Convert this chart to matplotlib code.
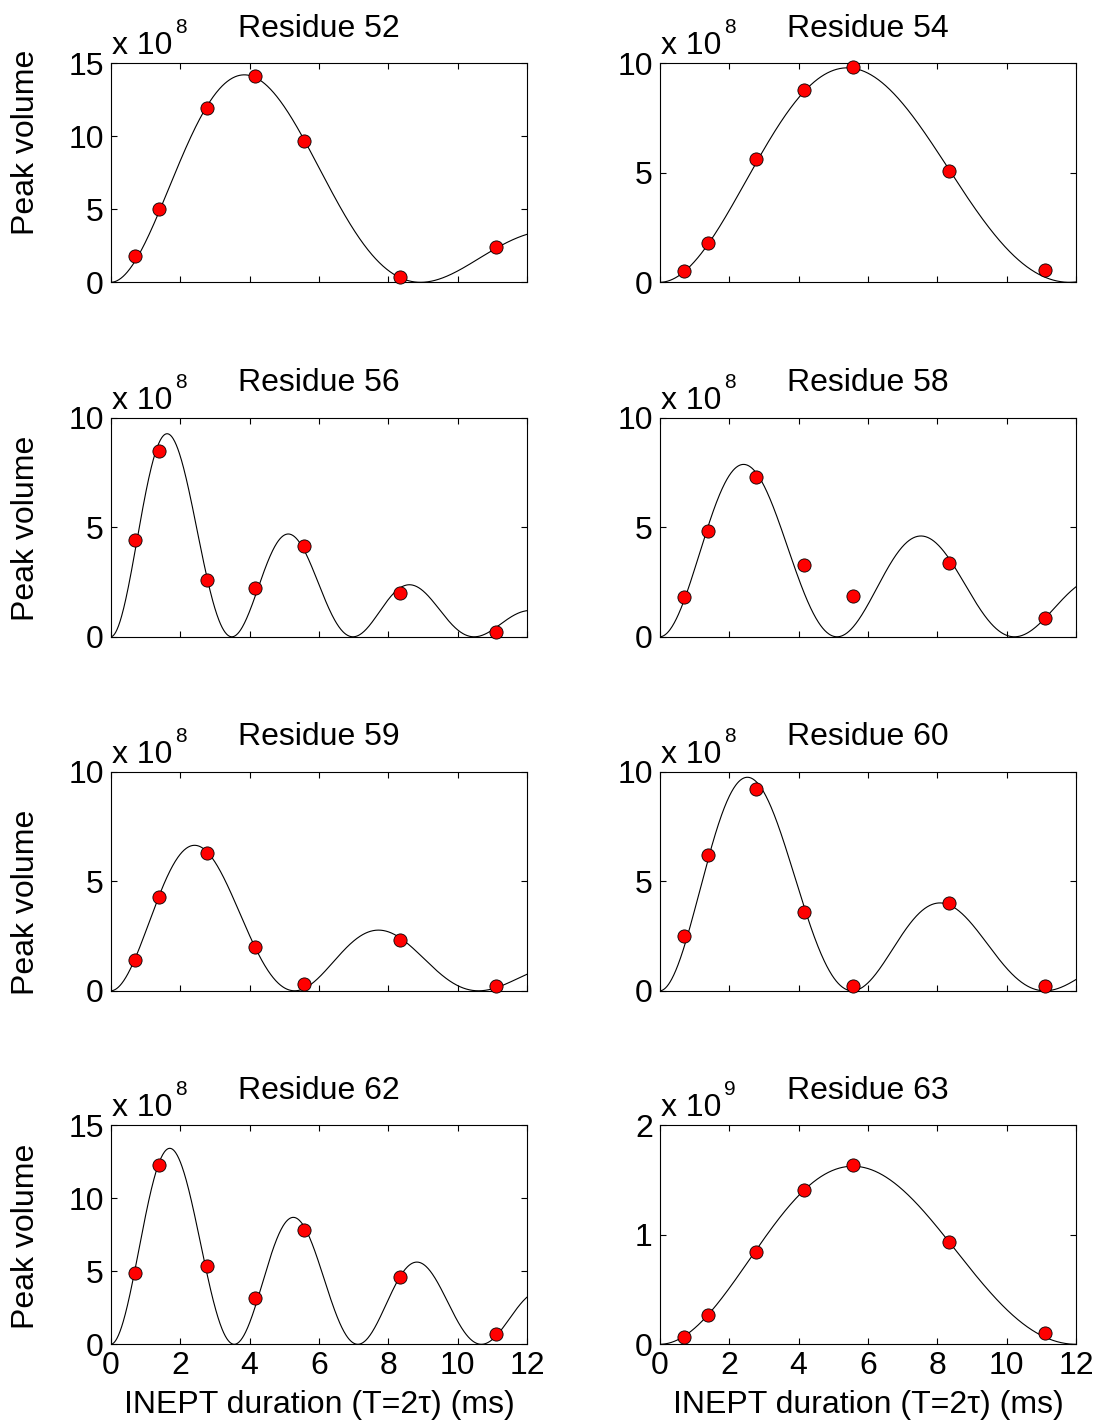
import numpy as np
import matplotlib
matplotlib.use("Agg")
import matplotlib.pyplot as plt
from matplotlib.transforms import offset_copy

plt.rcParams['font.family'] = ['Liberation Sans', 'DejaVu Sans']

# ---------------- data ----------------
residues = [52, 54, 56, 58, 59, 60, 62, 63]
T_ms = [0.69, 1.39, 2.78, 4.17, 5.56, 8.33, 11.11]   # INEPT durations (ms)

vol_52 = [1.82e8, 5.02e8, 11.95e8, 14.14e8, 9.70e8, 0.39e8, 2.43e8]
vol_54 = [0.50e8, 1.79e8, 5.62e8, 8.79e8, 9.82e8, 5.06e8, 0.55e8]
vol_56 = [4.44e8, 8.48e8, 2.60e8, 2.25e8, 4.13e8, 2.01e8, 0.20e8]
vol_58 = [1.84e8, 4.83e8, 7.31e8, 3.27e8, 1.87e8, 3.37e8, 0.85e8]
vol_59 = [1.40e8, 4.30e8, 6.30e8, 2.00e8, 0.30e8, 2.30e8, 0.20e8]
vol_60 = [2.50e8, 6.20e8, 9.20e8, 3.60e8, 0.20e8, 4.00e8, 0.20e8]
vol_62 = [4.88e8, 12.26e8, 5.36e8, 3.19e8, 7.82e8, 4.60e8, 0.71e8]
vol_63 = [0.070e9, 0.271e9, 0.845e9, 1.407e9, 1.635e9, 0.930e9, 0.103e9]
volumes = [vol_52, vol_54, vol_56, vol_58, vol_59, vol_60, vol_62, vol_63]

# fitted curve parameters (V = A sin^2(pi J T) exp(-R T))
fit_amp = [27.0e8, 14.63e8, 12.88e8, 10.22e8, 10.09e8, 14.9e8, 16.6e8, 2.306e9]
fit_J_hz = [112.0, 84.7, 286.5, 195.7, 188.7, 180.2, 280.9, 83.3]
fit_R2 = [154.5, 71.0, 195.0, 105.0, 165.0, 160.0, 122.0, 60.4]   # 1/s

exponents = [8, 8, 8, 8, 8, 8, 8, 9]
ylim_top = [15, 10, 10, 10, 10, 10, 15, 2]
ytick_step = [5, 5, 5, 5, 5, 5, 5, 1]
xticks = [0, 2, 4, 6, 8, 10, 12]

# ---------------- layout ----------------
W, H = 1101, 1425
fig = plt.figure(figsize=(W / 100, H / 100), dpi=100)

col_left = [110.7, 659.7]
ax_w = 416.5
ax_h = 219.0
row_top = [63.3, 417.8, 771.8, 1125.3]
ylabel_center_y = [142, 528, 902, 1236]

FS = 23
T_curve = np.linspace(0, 12, 801)

for i, res in enumerate(residues):
    r, c = divmod(i, 2)
    left = col_left[c] / W
    bottom = 1 - (row_top[r] + ax_h) / H
    ax = fig.add_axes([left, bottom, ax_w / W, ax_h / H])

    scale = 10.0 ** exponents[i]
    curve = fit_amp[i] * np.sin(np.pi * fit_J_hz[i] * T_curve / 1000.0) ** 2 \
        * np.exp(-fit_R2[i] * T_curve / 1000.0)
    ax.plot(T_curve, curve / scale, color='black', lw=0.8, zorder=2)
    ax.plot(T_ms, np.array(volumes[i]) / scale, 'o', color='red', mfc='red',
            mec='black', mew=0.6, ms=9.5, zorder=3, clip_on=False)

    ax.set_xlim(0, 12)
    ax.set_ylim(0, ylim_top[i])
    ax.set_xticks(xticks)
    ax.set_yticks(np.arange(0, ylim_top[i] + 0.01, ytick_step[i]))
    ax.tick_params(direction='in', top=True, right=True, length=4, width=0.8,
                   labelsize=FS, pad=5)
    if r < 3:
        ax.tick_params(labelbottom=False)
    else:
        ax.set_xlabel('INEPT duration (T=2\u03c4) (ms)', fontsize=FS, labelpad=6)
    for s in ax.spines.values():
        s.set_linewidth(0.8)

    ax.set_title(f'Residue {res}', fontsize=FS, pad=19)

    # exponent label
    tr = offset_copy(ax.transAxes, fig=fig, x=1, y=9, units='dots')
    ax.text(0, 1, 'x 10', transform=tr, fontsize=FS, ha='left', va='baseline')
    tr2 = offset_copy(ax.transAxes, fig=fig, x=64, y=30, units='dots')
    ax.text(0, 1, str(exponents[i]), transform=tr2, fontsize=15, ha='left',
            va='baseline')

    if c == 0:
        yc = (row_top[r] + ax_h - ylabel_center_y[r]) / ax_h
        xc = (26 - col_left[0]) / ax_w
        ax.text(xc, yc, 'Peak volume', transform=ax.transAxes, rotation=90,
                ha='center', va='center', fontsize=FS)

fig.savefig('out.png', dpi=100)
